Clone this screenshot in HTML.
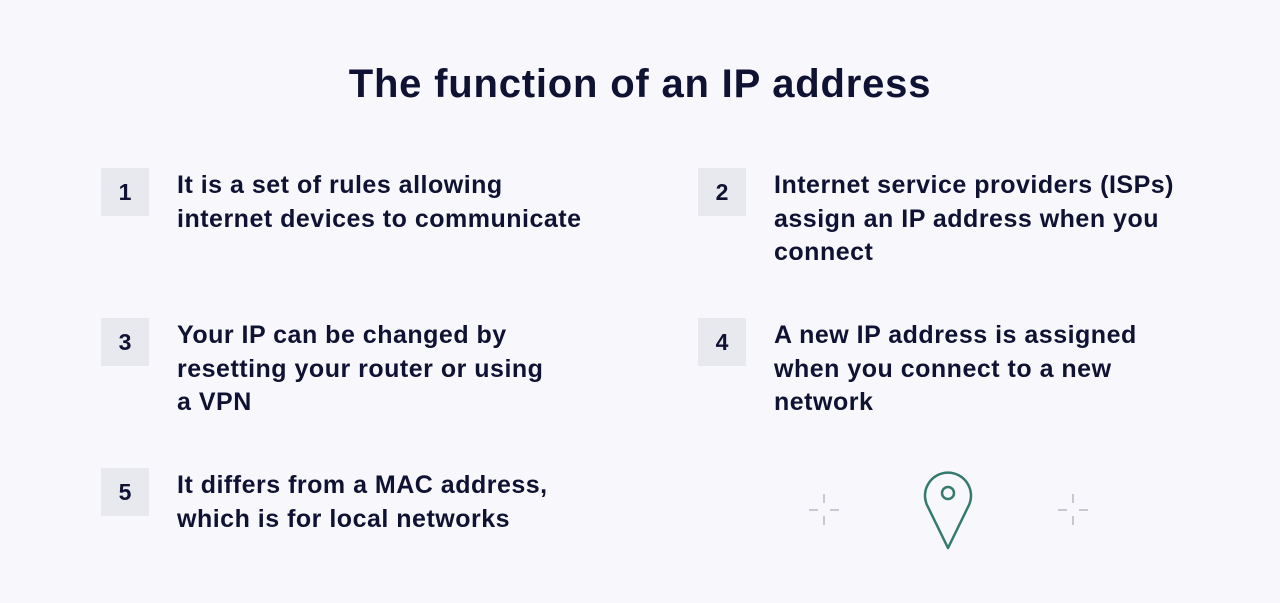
<!DOCTYPE html>
<html><head><style>
body{margin:0;width:1280px;height:603px;background:#f8f8fc;font-family:"Liberation Sans",sans-serif;color:#0f1233;position:relative;overflow:hidden}
h1{position:absolute;top:62px;left:0;width:1280px;text-align:center;margin:0;font-size:40px;font-weight:bold;letter-spacing:0.8px}
.n{position:absolute;width:48px;height:48px;background:#e8e8ef;font-size:23px;font-weight:bold;display:flex;align-items:center;justify-content:center}
.t{position:absolute;font-size:25px;line-height:33.5px;font-weight:bold;width:480px;letter-spacing:0.5px}
</style></head><body>
<h1>The function of an IP address</h1>
<div class="n" style="left:101px;top:168px">1</div>
<div class="t" style="left:177px;top:169px">It is a set of rules allowing<br>internet devices to communicate</div>
<div class="n" style="left:698px;top:168px">2</div>
<div class="t" style="left:774px;top:169px">Internet service providers (ISPs)<br>assign an IP address when you<br>connect</div>
<div class="n" style="left:101px;top:318px">3</div>
<div class="t" style="left:177px;top:319px">Your IP can be changed by<br>resetting your router or using<br>a VPN</div>
<div class="n" style="left:698px;top:318px">4</div>
<div class="t" style="left:774px;top:319px">A new IP address is assigned<br>when you connect to a new<br>network</div>
<div class="n" style="left:101px;top:468px">5</div>
<div class="t" style="left:177px;top:469px">It differs from a MAC address,<br>which is for local networks</div>
<svg width="1280" height="603" style="position:absolute;left:0;top:0">
<g stroke="#c8c8d0" stroke-width="2">
<path d="M809 510h9M830 510h9M824 494v9M824 516v9"/>
<path d="M1058 510h9M1079 510h9M1073 494v9M1073 516v9"/>
</g>
<path d="M948 548L928 507A23 23 0 1 1 968 507Z" fill="none" stroke="#357a6e" stroke-width="2.5" stroke-linejoin="round"/>
<circle cx="948" cy="493" r="6" fill="none" stroke="#357a6e" stroke-width="2.5"/>
</svg>
</body></html>
